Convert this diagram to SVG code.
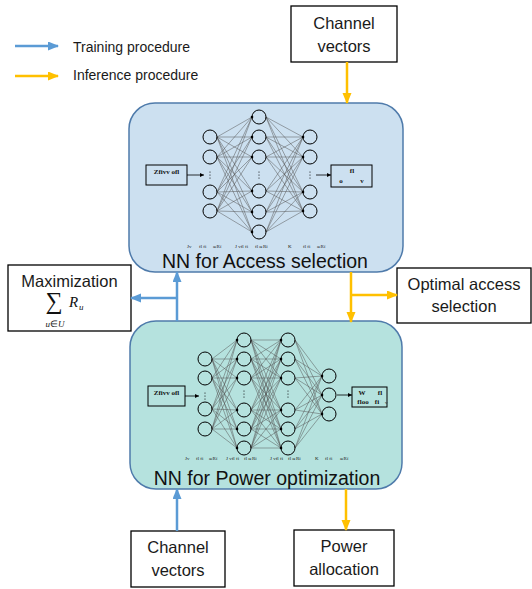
<svg xmlns="http://www.w3.org/2000/svg" width="532" height="589" viewBox="0 0 532 589">
<defs>
<style>
.box{fill:#ffffff;stroke:#000000;stroke-width:1.3}
.lbl{font-family:"Liberation Sans",Arial,sans-serif;font-size:16.5px;fill:#1a1a1a;text-anchor:middle}
.leg{font-family:"Liberation Sans",Arial,sans-serif;font-size:14px;fill:#1a1a1a}
.title{font-family:"Liberation Sans",Arial,sans-serif;font-size:19.5px;fill:#111;text-anchor:middle}
.edge{stroke:#555;stroke-width:0.5;fill:none}
.nd{fill:none;stroke:#000;stroke-width:1}
.tiny{font-family:"Liberation Serif","Times New Roman",serif;font-size:5px;fill:#222}
.sm{font-family:"Liberation Serif","Times New Roman",serif;font-size:7px;font-weight:bold;fill:#111}
.sb{fill:#fff;fill-opacity:0;stroke:#000;stroke-width:1}
.blue{stroke:#5b9bd5;stroke-width:2.5;fill:none}
.orange{stroke:#ffc000;stroke-width:2.5;fill:none}
.math{font-family:"Liberation Serif","Times New Roman",serif;fill:#111}
</style>
<marker id="ab" markerUnits="userSpaceOnUse" markerWidth="11" markerHeight="10" refX="10" refY="4.5" orient="auto"><path d="M0,0L11,4.5L0,9z" fill="#5b9bd5"/></marker>
<marker id="ao" markerUnits="userSpaceOnUse" markerWidth="11" markerHeight="10" refX="10" refY="4.5" orient="auto"><path d="M0,0L11,4.5L0,9z" fill="#ffc000"/></marker>
<marker id="ak" markerUnits="userSpaceOnUse" markerWidth="5" markerHeight="4" refX="4" refY="2" orient="auto"><path d="M0,0L4,2L0,4z" fill="#000"/></marker>
</defs>

<g id="legend">
<line class="blue" x1="15" y1="46" x2="58" y2="46" marker-end="url(#ab)"/>
<text class="leg" x="73" y="52">Training procedure</text>
<line class="orange" x1="15" y1="76" x2="58" y2="76" marker-end="url(#ao)"/>
<text class="leg" x="73" y="80">Inference procedure</text>
</g>

<g id="channel-top">
<rect class="box" x="291" y="6" width="106" height="56"/>
<text class="lbl" x="344" y="29">Channel</text>
<text class="lbl" x="344" y="52">vectors</text>
</g>

<g id="nn-access">
<rect x="129" y="103" width="274" height="169" rx="26" fill="#cce0f0" stroke="#4f7bab" stroke-width="1.5"/>
<path class="edge" d="M217 137L252 117M217 137L252 137M217 137L252 157M217 137L252 191M217 137L252 212M217 137L252 232M217 157L252 117M217 157L252 137M217 157L252 157M217 157L252 191M217 157L252 212M217 157L252 232M217 192L252 117M217 192L252 137M217 192L252 157M217 192L252 191M217 192L252 212M217 192L252 232M217 211L252 117M217 211L252 137M217 211L252 157M217 211L252 191M217 211L252 212M217 211L252 232"/>
<path class="edge" d="M266 117L303 137M266 117L303 157M266 117L303 192M266 117L303 211M266 137L303 137M266 137L303 157M266 137L303 192M266 137L303 211M266 157L303 137M266 157L303 157M266 157L303 192M266 157L303 211M266 191L303 137M266 191L303 157M266 191L303 192M266 191L303 211M266 212L303 137M266 212L303 157M266 212L303 192M266 212L303 211M266 232L303 137M266 232L303 157M266 232L303 192M266 232L303 211"/>
<g fill="#000">
<circle cx="252" cy="117" r="1.3"/><circle cx="252" cy="137" r="1.3"/><circle cx="252" cy="157" r="1.3"/><circle cx="252" cy="191" r="1.3"/><circle cx="252" cy="212" r="1.3"/><circle cx="252" cy="232" r="1.3"/>
<circle cx="303" cy="137" r="1.3"/><circle cx="303" cy="157" r="1.3"/><circle cx="303" cy="192" r="1.3"/><circle cx="303" cy="211" r="1.3"/>
<circle cx="210" cy="172" r="0.6"/><circle cx="210" cy="175" r="0.6"/><circle cx="210" cy="178" r="0.6"/>
<circle cx="259" cy="172" r="0.6"/><circle cx="259" cy="175" r="0.6"/><circle cx="259" cy="178" r="0.6"/>
<circle cx="310" cy="172" r="0.6"/><circle cx="310" cy="175" r="0.6"/><circle cx="310" cy="178" r="0.6"/>
</g>
<g class="nd">
<circle cx="210" cy="137" r="7"/><circle cx="210" cy="157" r="7"/><circle cx="210" cy="192" r="7"/><circle cx="210" cy="211" r="7"/>
<circle cx="259" cy="117" r="7"/><circle cx="259" cy="137" r="7"/><circle cx="259" cy="157" r="7"/><circle cx="259" cy="191" r="7"/><circle cx="259" cy="212" r="7"/><circle cx="259" cy="232" r="7"/>
<circle cx="310" cy="137" r="7"/><circle cx="310" cy="157" r="7"/><circle cx="310" cy="192" r="7"/><circle cx="310" cy="211" r="7"/>
</g>
<rect class="sb" x="146" y="165" width="41" height="20"/>
<text class="sm" x="166.5" y="174" text-anchor="middle">Zfivv ofl</text>
<line x1="187" y1="175" x2="204" y2="175" stroke="#000" stroke-width="0.8" marker-end="url(#ak)"/>
<line x1="316" y1="175" x2="331" y2="175" stroke="#000" stroke-width="0.8" marker-end="url(#ak)"/>
<rect class="sb" x="331" y="165" width="41" height="22"/>
<text class="sm" x="352" y="173" text-anchor="middle">fl</text>
<text class="sm" x="341" y="183" text-anchor="middle">o</text>
<text class="sm" x="362" y="183" text-anchor="middle">v</text>
<text class="tiny" x="187" y="248">Jv</text>
<text class="tiny" x="199" y="248">fl fi</text>
<text class="tiny" x="213" y="248">œRï</text>
<text class="tiny" x="235" y="248">J vfl fi</text>
<text class="tiny" x="255" y="248">fl œRï</text>
<text class="tiny" x="288" y="248">K</text>
<text class="tiny" x="303" y="248">fl fi</text>
<text class="tiny" x="317" y="248">œRï</text>
<text class="title" x="265" y="268">NN for Access selection</text>
</g>

<g id="nn-power">
<rect x="130" y="321" width="272" height="168" rx="26" fill="#b5e2de" stroke="#4f7bab" stroke-width="1.5"/>
<path class="edge" d="M212 359L237 340M212 359L237 359M212 359L237 378M212 359L237 410M212 359L237 429M212 359L237 448M212 378L237 340M212 378L237 359M212 378L237 378M212 378L237 410M212 378L237 429M212 378L237 448M212 409L237 340M212 409L237 359M212 409L237 378M212 409L237 410M212 409L237 429M212 409L237 448M212 429L237 340M212 429L237 359M212 429L237 378M212 429L237 410M212 429L237 429M212 429L237 448"/>
<path class="edge" d="M251 340L281 340M251 340L281 359M251 340L281 378M251 340L281 410M251 340L281 429M251 340L281 448M251 359L281 340M251 359L281 359M251 359L281 378M251 359L281 410M251 359L281 429M251 359L281 448M251 378L281 340M251 378L281 359M251 378L281 378M251 378L281 410M251 378L281 429M251 378L281 448M251 410L281 340M251 410L281 359M251 410L281 378M251 410L281 410M251 410L281 429M251 410L281 448M251 429L281 340M251 429L281 359M251 429L281 378M251 429L281 410M251 429L281 429M251 429L281 448M251 448L281 340M251 448L281 359M251 448L281 378M251 448L281 410M251 448L281 429M251 448L281 448"/>
<path class="edge" d="M295 340L322 376M295 340L322 395M295 340L322 414M295 359L322 376M295 359L322 395M295 359L322 414M295 378L322 376M295 378L322 395M295 378L322 414M295 410L322 376M295 410L322 395M295 410L322 414M295 429L322 376M295 429L322 395M295 429L322 414M295 448L322 376M295 448L322 395M295 448L322 414"/>
<g fill="#000">
<circle cx="237" cy="340" r="1.3"/><circle cx="237" cy="359" r="1.3"/><circle cx="237" cy="378" r="1.3"/><circle cx="237" cy="410" r="1.3"/><circle cx="237" cy="429" r="1.3"/><circle cx="237" cy="448" r="1.3"/>
<circle cx="281" cy="340" r="1.3"/><circle cx="281" cy="359" r="1.3"/><circle cx="281" cy="378" r="1.3"/><circle cx="281" cy="410" r="1.3"/><circle cx="281" cy="429" r="1.3"/><circle cx="281" cy="448" r="1.3"/>
<circle cx="322" cy="376" r="1.3"/><circle cx="322" cy="395" r="1.3"/><circle cx="322" cy="414" r="1.3"/>
<circle cx="205" cy="393" r="0.6"/><circle cx="205" cy="396" r="0.6"/><circle cx="205" cy="399" r="0.6"/>
<circle cx="244" cy="391" r="0.6"/><circle cx="244" cy="394" r="0.6"/><circle cx="244" cy="397" r="0.6"/>
<circle cx="288" cy="391" r="0.6"/><circle cx="288" cy="394" r="0.6"/><circle cx="288" cy="397" r="0.6"/>
</g>
<g class="nd">
<circle cx="205" cy="359" r="7"/><circle cx="205" cy="378" r="7"/><circle cx="205" cy="409" r="7"/><circle cx="205" cy="429" r="7"/>
<circle cx="244" cy="340" r="7"/><circle cx="244" cy="359" r="7"/><circle cx="244" cy="378" r="7"/><circle cx="244" cy="410" r="7"/><circle cx="244" cy="429" r="7"/><circle cx="244" cy="448" r="7"/>
<circle cx="288" cy="340" r="7"/><circle cx="288" cy="359" r="7"/><circle cx="288" cy="378" r="7"/><circle cx="288" cy="410" r="7"/><circle cx="288" cy="429" r="7"/><circle cx="288" cy="448" r="7"/>
<circle cx="329" cy="376" r="7"/><circle cx="329" cy="395" r="7"/><circle cx="329" cy="414" r="7"/>
</g>
<rect class="sb" x="148" y="386" width="37" height="20"/>
<text class="sm" x="166.5" y="395" text-anchor="middle">Zfivv ofl</text>
<line x1="185" y1="396" x2="199" y2="396" stroke="#000" stroke-width="0.8" marker-end="url(#ak)"/>
<line x1="337" y1="395" x2="352" y2="395" stroke="#000" stroke-width="0.8" marker-end="url(#ak)"/>
<rect class="sb" x="352" y="387" width="35" height="20"/>
<text class="sm" x="362" y="395" text-anchor="middle">W</text>
<text class="sm" x="380" y="395" text-anchor="middle">fl</text>
<text class="sm" x="363" y="404" text-anchor="middle">floo</text>
<text class="sm" x="377" y="404" text-anchor="middle">fi</text>
<text class="tiny" x="385" y="404">v</text>
<text class="tiny" x="185" y="460">Jv</text>
<text class="tiny" x="196" y="460">fl fi</text>
<text class="tiny" x="209" y="460">œRï</text>
<text class="tiny" x="226" y="460">J vfl fi</text>
<text class="tiny" x="244" y="460">fl œRï</text>
<text class="tiny" x="270" y="460">J vfl fi</text>
<text class="tiny" x="288" y="460">fl œRï</text>
<text class="tiny" x="315" y="460">K</text>
<text class="tiny" x="325" y="460">fl fi</text>
<text class="tiny" x="340" y="460">œRï</text>
<text class="title" x="267" y="485">NN for Power optimization</text>
</g>

<g id="maximization">
<rect class="box" x="8" y="265" width="123" height="66"/>
<text class="lbl" x="69.5" y="287">Maximization</text>
<text class="math" x="54" y="309" font-size="24" text-anchor="middle">∑</text>
<text class="math" x="69" y="307" font-size="15" font-style="italic">R</text>
<text class="math" x="79" y="310" font-size="9" font-style="italic">u</text>
<text class="math" x="55" y="327" font-size="9" text-anchor="middle"><tspan font-style="italic">u</tspan>∈<tspan font-style="italic">U</tspan></text>
</g>

<g id="optimal-access">
<rect class="box" x="397" y="268" width="134" height="55"/>
<text class="lbl" x="464" y="290">Optimal access</text>
<text class="lbl" x="464" y="312">selection</text>
</g>

<g id="channel-bottom">
<rect class="box" x="131" y="531" width="94" height="56"/>
<text class="lbl" x="178" y="553">Channel</text>
<text class="lbl" x="178" y="576">vectors</text>
</g>

<g id="power-allocation">
<rect class="box" x="294" y="530" width="100" height="56"/>
<text class="lbl" x="344" y="552">Power</text>
<text class="lbl" x="344" y="575">allocation</text>
</g>

<g id="connectors">
<line class="orange" x1="347" y1="62" x2="347" y2="103" marker-end="url(#ao)"/>
<line class="blue" x1="177" y1="321" x2="177" y2="272" marker-end="url(#ab)"/>
<line class="blue" x1="177" y1="298" x2="131" y2="298" marker-end="url(#ab)"/>
<line class="orange" x1="351" y1="272" x2="351" y2="322" marker-end="url(#ao)"/>
<line class="orange" x1="351" y1="295" x2="397" y2="295" marker-end="url(#ao)"/>
<line class="blue" x1="177" y1="531" x2="177" y2="489" marker-end="url(#ab)"/>
<line class="orange" x1="346" y1="489" x2="346" y2="530" marker-end="url(#ao)"/>
</g>
</svg>
